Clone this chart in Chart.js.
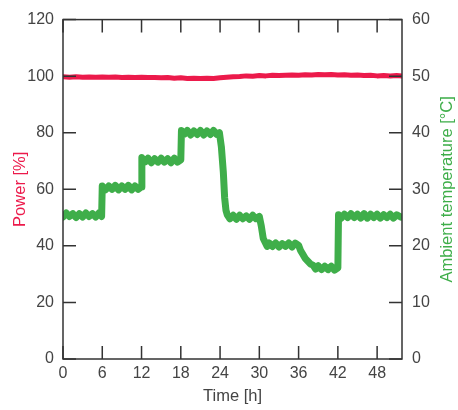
<!DOCTYPE html>
<html>
<head>
<meta charset="utf-8">
<script src="https://cdn.jsdelivr.net/npm/chart.js@4/dist/chart.umd.min.js"></script>
<style>
  html, body { margin: 0; padding: 0; background: #ffffff; }
  #c { display: block; }
</style>
</head>
<body>
<canvas id="c" width="458" height="410"></canvas>
<script>
// ---- Data ----
const xTitle = 'Time [h]';
const leftTitle = 'Power [%]';
const rightTitle = 'Ambient temperature [°C]';

// Ambient temperature [°C] vs time [h]
const tempTime = [
  0, 0.5, 1, 1.5, 2, 2.5, 3, 3.5, 4, 4.5, 5, 5.5, 5.9,
  6.0, 6.5, 7, 7.5, 8, 8.5, 9, 9.5, 10, 10.5, 11, 11.5, 11.95,
  12.05, 12.5, 13, 13.5, 14, 14.5, 15, 15.5, 16, 16.5, 17, 17.5, 18.0,
  18.1, 18.5, 19, 19.5, 20, 20.5, 21, 21.5, 22, 22.5, 23, 23.5, 23.9,
  24.2, 24.5, 24.7, 24.9, 25.1, 25.5, 26, 26.5, 27, 27.5, 28, 28.5, 29, 29.5, 30.0,
  30.3, 30.6, 30.9, 31.2, 31.5, 32, 32.5, 33, 33.5, 34, 34.5, 35, 35.5, 36.0,
  36.3, 36.6, 37, 37.4, 37.8, 38.2, 38.6, 39, 39.5, 40, 40.5, 41, 41.5, 42.0,
  42.1, 42.5, 43, 43.5, 44, 44.5, 45, 45.5, 46, 46.5, 47, 47.5, 48, 48.5, 49, 49.5, 50, 50.5, 51, 51.6
];
const tempC = [
  25.1, 25.8, 25.2, 25.7, 25.0, 25.7, 25.1, 25.8, 25.2, 25.7, 25.1, 25.8, 25.2,
  30.6, 29.9, 30.6, 30.0, 30.7, 29.9, 30.6, 30.0, 30.7, 29.9, 30.6, 30.0, 30.4,
  35.6, 34.8, 35.5, 34.7, 35.4, 34.8, 35.5, 34.8, 35.4, 34.7, 35.5, 34.8, 35.2,
  40.4, 39.7, 40.4, 39.6, 40.3, 39.7, 40.4, 39.6, 40.3, 39.7, 40.4, 39.7, 40.0,
  37.5, 33.0, 28.5, 26.3, 25.5, 24.8, 25.4, 24.7, 25.4, 24.8, 25.3, 24.7, 25.4, 24.8, 25.2,
  23.5, 21.3, 20.6, 19.9, 20.5, 19.9, 20.5, 19.8, 20.4, 19.9, 20.5, 19.8, 20.5, 20.1,
  19.2, 18.6, 17.8, 17.3, 16.8, 16.6, 15.9, 16.5, 15.8, 16.4, 15.8, 16.4, 15.7, 16.1,
  25.5, 24.9, 25.6, 25.0, 25.7, 25.0, 25.6, 24.9, 25.7, 24.9, 25.6, 25.0, 25.6, 24.9, 25.5, 25.0, 25.6, 24.9, 25.5, 25.1
];

// Power [%] vs time [h]
const powerTime = [
  0, 1, 2, 3, 4, 5, 6, 7, 8, 9, 10, 11, 12, 13, 14, 15, 16, 17, 18, 19, 20,
  21, 22, 23, 24, 25, 26, 27, 28, 29, 30, 31, 32, 33, 34, 35, 36, 37, 38, 39, 40,
  41, 42, 43, 44, 45, 46, 47, 48, 49, 50, 51, 51.8
];
const powerPct = [
  99.8, 99.6, 99.8, 99.6, 99.7, 99.6, 99.7, 99.6, 99.7, 99.5, 99.6, 99.5, 99.6, 99.5, 99.5, 99.4, 99.5, 99.3, 99.4, 99.2, 99.3,
  99.2, 99.3, 99.2, 99.4, 99.6, 99.8, 99.9, 100.1, 100.0, 100.2, 100.1, 100.3, 100.2, 100.3, 100.4, 100.3, 100.5, 100.4, 100.6, 100.5,
  100.6, 100.4, 100.5, 100.3, 100.4, 100.2, 100.3, 100.1, 100.2, 100.1, 100.2, 100.1
];

// Axis ranges / ticks
const xMin = 0, xMax = 51.8, xStep = 6;
const yLeftMin = 0, yLeftMax = 120, yLeftStep = 20;
const yRightMin = 0, yRightMax = 60, yRightStep = 10;

// ---- Styles ----
const RED = '#ec1a4b';
const GREEN = '#3fae4a';
const AXIS = '#333333';
const TEXT = '#444444';
const FONT = '"Liberation Sans", Arial, Helvetica, sans-serif';

const framePlugin = {
  id: 'frameTicks',
  afterDraw(chart) {
    const { ctx, chartArea: a, scales } = chart;
    const L = 13;
    ctx.save();
    ctx.strokeStyle = AXIS;
    ctx.lineWidth = 1.5;
    ctx.strokeRect(a.left, a.top, a.right - a.left, a.bottom - a.top);
    ctx.beginPath();
    scales.x.ticks.forEach(t => {
      const px = scales.x.getPixelForValue(t.value);
      ctx.moveTo(px, a.bottom); ctx.lineTo(px, a.bottom - L);
      ctx.moveTo(px, a.top); ctx.lineTo(px, a.top + L);
    });
    scales.y.ticks.forEach(t => {
      const py = scales.y.getPixelForValue(t.value);
      ctx.moveTo(a.left, py); ctx.lineTo(a.left + L, py);
    });
    scales.y2.ticks.forEach(t => {
      const py = scales.y2.getPixelForValue(t.value);
      ctx.moveTo(a.right, py); ctx.lineTo(a.right - L, py);
    });
    ctx.stroke();
    // right axis title, reading bottom-to-top
    ctx.translate(447, (a.top + a.bottom) / 2);
    ctx.rotate(-Math.PI / 2);
    ctx.fillStyle = GREEN;
    ctx.font = '16.5px ' + FONT;
    ctx.textAlign = 'center';
    ctx.textBaseline = 'middle';
    ctx.fillText(rightTitle, 0, 0);
    ctx.restore();
  }
};

new Chart(document.getElementById('c'), {
  type: 'line',
  data: {
    datasets: [
      {
        label: leftTitle,
        data: powerTime.map((t, i) => ({ x: t, y: powerPct[i] })),
        yAxisID: 'y',
        borderColor: RED,
        borderWidth: 5,
        pointRadius: 0,
        tension: 0,
        borderJoinStyle: 'round',
        borderCapStyle: 'round'
      },
      {
        label: rightTitle,
        data: tempTime.map((t, i) => ({ x: t, y: tempC[i] })),
        yAxisID: 'y2',
        borderColor: GREEN,
        borderWidth: 7,
        pointRadius: 0,
        tension: 0,
        borderJoinStyle: 'round',
        borderCapStyle: 'round'
      }
    ]
  },
  options: {
    responsive: false,
    devicePixelRatio: 1,
    animation: false,
    events: [],
    layout: { padding: { top: 19, left: 0, right: 0, bottom: 0 } },
    plugins: { legend: { display: false }, tooltip: { enabled: false } },
    scales: {
      x: {
        type: 'linear',
        position: 'bottom',
        min: xMin, max: xMax,
        afterFit: s => { s.height = 51; },
        grid: { display: false, drawTicks: false },
        border: { display: false },
        ticks: { stepSize: xStep, includeBounds: false, autoSkip: false, padding: 5, color: TEXT, font: { family: FONT, size: 16 } },
        title: { display: true, text: xTitle, color: TEXT, font: { family: FONT, size: 16.5 }, padding: { top: 0, bottom: 4 } }
      },
      y: {
        type: 'linear',
        position: 'left',
        min: yLeftMin, max: yLeftMax,
        afterFit: s => { s.width = 63; },
        grid: { display: false, drawTicks: false },
        border: { display: false },
        ticks: { stepSize: yLeftStep, padding: 9, color: TEXT, font: { family: FONT, size: 16 } },
        title: { display: true, text: leftTitle, color: RED, font: { family: FONT, size: 16.5 }, padding: { top: 11, bottom: 0 } }
      },
      y2: {
        type: 'linear',
        position: 'right',
        min: yRightMin, max: yRightMax,
        afterFit: s => { s.width = 56; },
        grid: { display: false, drawTicks: false },
        border: { display: false },
        ticks: { stepSize: yRightStep, padding: 10, color: TEXT, font: { family: FONT, size: 16 } }
      }
    }
  },
  plugins: [framePlugin]
});
</script>
</body>
</html>
